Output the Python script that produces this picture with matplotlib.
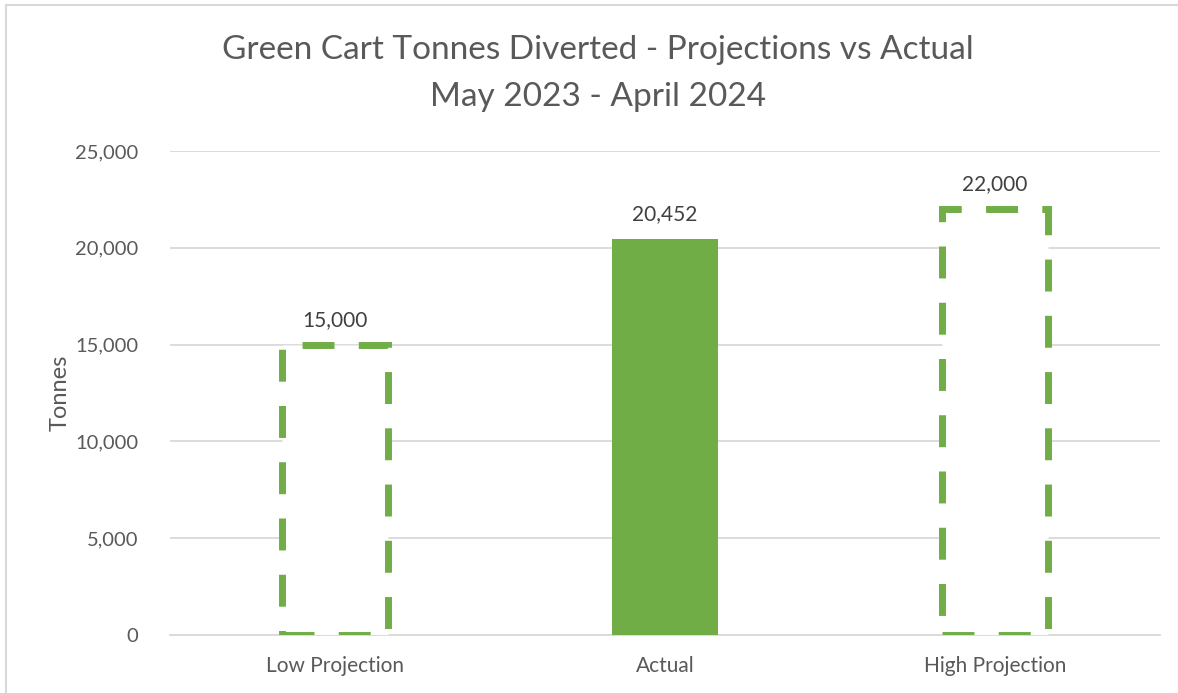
import numpy as np
import matplotlib.pyplot as plt
from matplotlib.patches import Rectangle

# data
categories = ["Low Projection", "Actual", "High Projection"]
values = [15000, 20452, 22000]
dashed = [True, False, True]
yticks = [0, 5000, 10000, 15000, 20000, 25000]

green = "#70AD47"
grey_txt = "#595959"
grid_c = "#D9D9D9"

plt.rcParams['font.family'] = ['Lato', 'DejaVu Sans']

fig = plt.figure(figsize=(11.78, 6.93), dpi=100)
ax = fig.add_axes([170 / 1178, 1 - 635 / 693, 990 / 1178, 484 / 693])

x = np.arange(len(categories))
for xi, v, d in zip(x, values, dashed):
    if d:
        ax.bar(xi, v, width=0.32, facecolor="white", edgecolor=green,
               linewidth=5, linestyle=(0, (4.6, 3.5)), zorder=3)
    else:
        ax.bar(xi, v, width=0.32, color=green, zorder=3)
    ax.annotate(f"{v:,}", (xi, v), xytext=(0, 18), textcoords="offset points",
                ha="center", va="center", fontsize=15, color="#404040", zorder=4)

ax.set_xlim(-0.5, 2.5)
ax.set_ylim(0, 25000)
ax.set_yticks(yticks)
ax.set_yticklabels([f"{t:,}" for t in yticks])
ax.set_xticks(x)
ax.set_xticklabels(categories)
ax.grid(axis="y", color=grid_c, linewidth=1.3, zorder=0)
ax.set_axisbelow(True)
for s in ["top", "right", "left"]:
    ax.spines[s].set_visible(False)
ax.spines["bottom"].set_color(grid_c)
ax.spines["bottom"].set_linewidth(1.3)
ax.tick_params(axis="y", length=0, labelsize=14.5, labelcolor=grey_txt, pad=23)
ax.tick_params(axis="x", length=0, labelsize=15, labelcolor=grey_txt, pad=15)
ax.set_ylabel("Tonnes", fontsize=17, color=grey_txt, labelpad=3)

fig.text(0.5 * (218 + 978) / 1178, 1 - 50 / 693, "Green Cart Tonnes Diverted - Projections vs Actual",
         ha="center", va="center", fontsize=24, color=grey_txt)
fig.text(0.5 * (218 + 978) / 1178, 1 - 97 / 693, "May 2023 - April 2024",
         ha="center", va="center", fontsize=24, color=grey_txt)

# chart border
fig.patches.append(Rectangle((6 / 1178, -0.01), 1.02, 1 - 5 / 693 + 0.01,
                             transform=fig.transFigure, fill=False,
                             edgecolor=grid_c, linewidth=1.5))

fig.savefig("out.png", dpi=100)
